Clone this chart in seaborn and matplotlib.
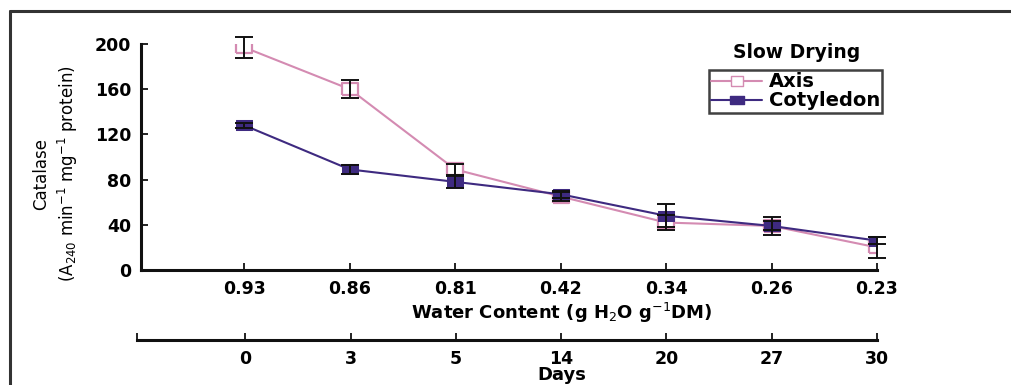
import numpy as np
import pandas as pd
import seaborn as sns
import matplotlib
matplotlib.use("Agg")
import matplotlib.pyplot as plt
from matplotlib.lines import Line2D

# data
water_content = ["0.93", "0.86", "0.81", "0.42", "0.34", "0.26", "0.23"]
days = ["0", "3", "5", "14", "20", "27", "30"]
axis_mean = [197, 160, 89, 65, 42, 39, 20]
axis_err = [9, 8, 5, 4, 7, 8, 9]
coty_mean = [128, 89, 78, 67, 48, 39, 26]
coty_err = [2, 4, 5, 3, 10, 4, 3]

pink = "#d48bb2"
purple = "#3e2a80"

sns.set_style("white")
plt.rcParams["font.family"] = ["DejaVu Sans"]
plt.rcParams["axes.unicode_minus"] = False
plt.rcParams["text.color"] = "black"
plt.rcParams["axes.labelcolor"] = "black"
plt.rcParams["xtick.color"] = "black"
plt.rcParams["ytick.color"] = "black"

# wide rectangle markers (the original is horizontally stretched)
rect_open = [(-1.35, -1), (1.35, -1), (1.35, 1), (-1.35, 1), (-1.35, -1)]
rect_fill = [(-1.7, -1), (1.7, -1), (1.7, 1), (-1.7, 1), (-1.7, -1)]

df = pd.DataFrame({
    "pos": list(range(len(water_content))) * 2,
    "value": axis_mean + coty_mean,
    "tissue": ["Axis"] * len(axis_mean) + ["Cotyledon"] * len(coty_mean),
})

fig = plt.figure(figsize=(10.12, 3.85), dpi=100)
ax = fig.add_axes([141 / 1012, 1 - 270 / 385, (877 - 141) / 1012, (270 - 44) / 385])

pos = np.arange(len(water_content))

sns.lineplot(data=df, x="pos", y="value", hue="tissue", style="tissue",
             palette={"Axis": pink, "Cotyledon": purple},
             markers={"Axis": rect_open, "Cotyledon": rect_fill}, dashes=False,
             linewidth=1.5, markersize=12, ax=ax, legend=False, zorder=3)
ax.lines[0].set_markerfacecolor("white")
ax.lines[0].set_markeredgecolor(pink)
ax.lines[0].set_markeredgewidth(1.6)
ax.lines[0].set_markersize(11.5)
ax.lines[1].set_markerfacecolor(purple)
ax.lines[1].set_markeredgecolor(purple)

# error bars (black, capped), drawn above the markers
for m, e in [(axis_mean, axis_err), (coty_mean, coty_err)]:
    eb = ax.errorbar(pos, m, yerr=e, fmt="none", ecolor="#111111",
                     elinewidth=1.4, capsize=6.5, capthick=1.4, zorder=5)
    for art in eb.lines[1] + eb.lines[2]:
        art.set_clip_on(False)

ax.set_xlim(-0.98, 6)
ax.set_ylim(0, 200)
ax.set_yticks([0, 40, 80, 120, 160, 200])
ax.set_xticks(pos)
ax.set_xticklabels(water_content)
for s in ["top", "right"]:
    ax.spines[s].set_visible(False)
for s in ["left", "bottom"]:
    ax.spines[s].set_linewidth(2.2)
    ax.spines[s].set_color("#111111")
ax.tick_params(direction="in", length=5, width=1.3, labelsize=12.5, pad=7,
               bottom=True, left=True, color="#111111")
for t in ax.get_xticklabels() + ax.get_yticklabels():
    t.set_fontweight("bold")
ax.set_xlabel("Water Content (g H$_2$O g$^{-1}$DM)", fontsize=13, fontweight="bold")
ax.xaxis.set_label_coords((562 - 141) / 736, -0.135)
ax.set_ylabel("Catalase\n(A$_{240}$ min$^{-1}$ mg$^{-1}$ protein)", fontsize=12,
              linespacing=1.3)
ax.yaxis.set_label_coords(-0.083, 0.425)

# legend
handles = [
    Line2D([], [], color=pink, marker=rect_open, markerfacecolor="white", markeredgecolor=pink,
           markersize=9, linewidth=1.5),
    Line2D([], [], color=purple, marker=rect_fill, markerfacecolor=purple, markeredgecolor=purple,
           markersize=10, linewidth=1.5),
]
leg = ax.legend(handles, ["Axis", "Cotyledon"], loc="upper left",
                bbox_to_anchor=((709 - 141) / 736, 1 - (70 - 44) / 226),
                frameon=True, fancybox=False, edgecolor="#111111",
                prop={"weight": "bold", "size": 14}, handlelength=2.6,
                handletextpad=0.35, borderpad=0.12, labelspacing=0.0,
                borderaxespad=0)
leg.get_frame().set_linewidth(1.8)
fig.text(797 / 1012, 1 - 52 / 385, "Slow Drying", ha="center", va="center",
         fontsize=13.5, fontweight="bold")

# second x axis: days
ax2 = fig.add_axes([137 / 1012, 1 - 340 / 385, (877 - 137) / 1012, 0.0001])
ax2.set_xlim(-1.03, 6)
ax2.set_ylim(0, 1)
ax2.set_yticks([])
for s in ["top", "right", "left"]:
    ax2.spines[s].set_visible(False)
ax2.spines["bottom"].set_linewidth(2.2)
ax2.spines["bottom"].set_color("#111111")
ax2.set_xticks([-1.03] + list(pos))
ax2.set_xticklabels([""] + days)
ax2.tick_params(direction="in", length=5, width=1.3, labelsize=12.5, pad=7,
                bottom=True, color="#111111")
for t in ax2.get_xticklabels():
    t.set_fontweight("bold")
ax2.set_xlabel("Days", fontsize=13, fontweight="bold", labelpad=0)
ax2.xaxis.set_label_coords((562 - 137) / 740, -1)
ax2.xaxis.label.set_transform(fig.transFigure)
ax2.xaxis.label.set_position((562 / 1012, 1 - 385 / 385 + 0.003))
ax2.xaxis.label.set_verticalalignment("bottom")

# figure frame (partly cropped)
fig.add_artist(Line2D([10 / 1012, 10 / 1012], [0, 1 - 11 / 385], color="#333333", lw=2.2))
fig.add_artist(Line2D([10 / 1012, 1], [1 - 11 / 385, 1 - 11 / 385], color="#333333", lw=2.2))

fig.savefig("out.png", dpi=100)
